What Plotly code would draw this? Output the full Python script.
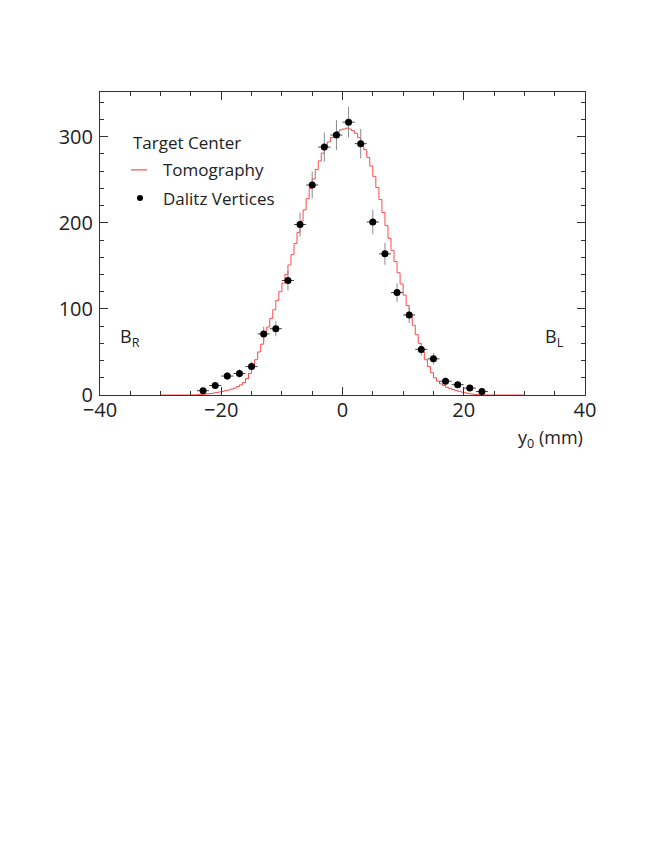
import numpy as np
import plotly.graph_objects as go

# Tomography histogram (0.5 mm bins from -30 to 30), values at bin centres
tomo_edges_lo = -30.0
tomo_bin_w = 0.5
tomo_values = (
    [0] * 10 +
    [0.1, 0.2, 0.4, 0.6, 0.9, 1.3, 1.7, 2.2, 2.8, 3.5,
     4.2, 5.0, 5.8, 6.8, 8.0, 9.7, 11.8, 14.5, 19, 25,
     32, 41, 50, 59, 69, 79, 89, 99, 110, 120,
     130, 140, 151, 163, 176, 189, 202, 215, 228, 240,
     251, 262, 272, 281, 288, 294, 299, 303, 306, 308,
     309, 310, 309, 307, 304, 299, 293, 285, 276, 266,
     254, 241, 227, 212, 197, 182, 168, 155, 142, 129,
     116, 104, 92, 81, 70, 60, 50, 41, 33, 26,
     20, 16, 13, 11, 9, 7.6, 6.4, 5.3, 4.3, 3.4,
     2.6, 1.9, 1.3, 0.8, 0.5, 0.3, 0.15, 0.05] +
    [0] * 12
)

# Dalitz vertices (2 mm bins)
dalitz_x = [-23, -21, -19, -17, -15, -13, -11, -9, -7, -5, -3, -1,
            1, 3, 5, 7, 9, 11, 13, 15, 17, 19, 21, 23]
dalitz_y = [5, 11, 22, 25, 33, 71, 77, 133, 198, 244, 288, 302,
            317, 292, 201, 164, 119, 93, 53, 42, 16, 12, 8, 4]
dalitz_err = [2.2, 3.3, 4.7, 5.0, 5.7, 8.4, 8.8, 11.5, 14.1, 15.6, 17.0, 17.4,
              17.8, 17.1, 14.2, 12.8, 10.9, 9.6, 7.3, 6.5, 4.0, 3.5, 2.8, 2.0]
dalitz_halfwidth = 1.0

x_ticks = [-40, -20, 0, 20, 40]
x_ticktext = ["\u221240", "\u221220", "0", "20", "40"]
y_ticks = [0, 100, 200, 300]

edges = [tomo_edges_lo + tomo_bin_w * i for i in range(len(tomo_values) + 1)]
step_y = list(tomo_values) + [tomo_values[-1]]

FONT = "Open Sans"
TXT = "#222222"
RED = "#ff4a4a"

fig = go.Figure()
fig.add_trace(go.Scatter(
    x=edges, y=step_y, mode="lines", line_shape="hv",
    line=dict(color=RED, width=1),
    name="Tomography", showlegend=False,
))
fig.add_trace(go.Scatter(
    x=dalitz_x, y=dalitz_y, mode="markers",
    marker=dict(color="black", size=7),
    error_y=dict(type="data", array=dalitz_err, color="#8c8c8c", thickness=1, width=0),
    error_x=dict(type="constant", value=dalitz_halfwidth, color="#444444", thickness=1, width=0),
    name="Dalitz Vertices", showlegend=False,
))

fig.update_layout(
    width=646, height=830,
    paper_bgcolor="white", plot_bgcolor="white",
    margin=dict(l=92, r=69, t=84, b=443, autoexpand=False),
    font=dict(family=FONT, color=TXT),
    showlegend=False,
    xaxis=dict(
        range=[-40, 40], tickvals=x_ticks, ticktext=x_ticktext,
        ticks="inside", ticklen=8, tickcolor="#333333",
        minor=dict(ticks="inside", dtick=5, ticklen=4, tickcolor="#333333"),
        showline=True, linecolor="#333333", linewidth=1, mirror="ticks",
        showgrid=False, zeroline=False,
        tickfont=dict(size=20, family=FONT, color=TXT),
        ticklabelstandoff=-3,
    ),
    yaxis=dict(
        range=[0, 352], tickvals=y_ticks,
        ticks="inside", ticklen=8, tickcolor="#333333",
        minor=dict(ticks="inside", dtick=20, ticklen=4, tickcolor="#333333"),
        showline=True, linecolor="#333333", linewidth=1, mirror="ticks",
        showgrid=False, zeroline=False,
        tickfont=dict(size=20, family=FONT, color=TXT),
        ticklabelstandoff=2,
    ),
    shapes=[
        # legend glyphs
        dict(type="line", xref="paper", yref="paper", x0=0.064, x1=0.097, y0=0.743, y1=0.743,
             line=dict(color=RED, width=1.2)),
        dict(type="circle", xref="paper", yref="paper", x0=0.0825 - 0.0062, x1=0.0825 + 0.0062,
             y0=0.650 - 0.0099, y1=0.650 + 0.0099, fillcolor="black", line=dict(width=0)),
    ],
    annotations=[
        dict(text="Target Center", xref="paper", yref="paper", x=0.064, y=0.832,
             xanchor="left", yanchor="middle", showarrow=False,
             font=dict(size=17, family=FONT, color=TXT)),
        dict(text="Tomography", xref="paper", yref="paper", x=0.126, y=0.743,
             xanchor="left", yanchor="middle", showarrow=False,
             font=dict(size=17, family=FONT, color=TXT)),
        dict(text="Dalitz Vertices", xref="paper", yref="paper", x=0.126, y=0.650,
             xanchor="left", yanchor="middle", showarrow=False,
             font=dict(size=17, family=FONT, color=TXT)),
        dict(text="y<sub>0</sub> (mm)", xref="paper", yref="paper", x=1.0, y=-0.142,
             xanchor="right", yanchor="middle", showarrow=False,
             font=dict(size=18, family=FONT, color=TXT)),
        dict(text="B<sub>R</sub>", xref="paper", yref="paper", x=0.037, y=0.191,
             xanchor="left", yanchor="middle", showarrow=False,
             font=dict(size=18, family=FONT, color=TXT)),
        dict(text="B<sub>L</sub>", xref="paper", yref="paper", x=0.913, y=0.191,
             xanchor="left", yanchor="middle", showarrow=False,
             font=dict(size=18, family=FONT, color=TXT)),
    ],
)

fig.write_html("out.html")
